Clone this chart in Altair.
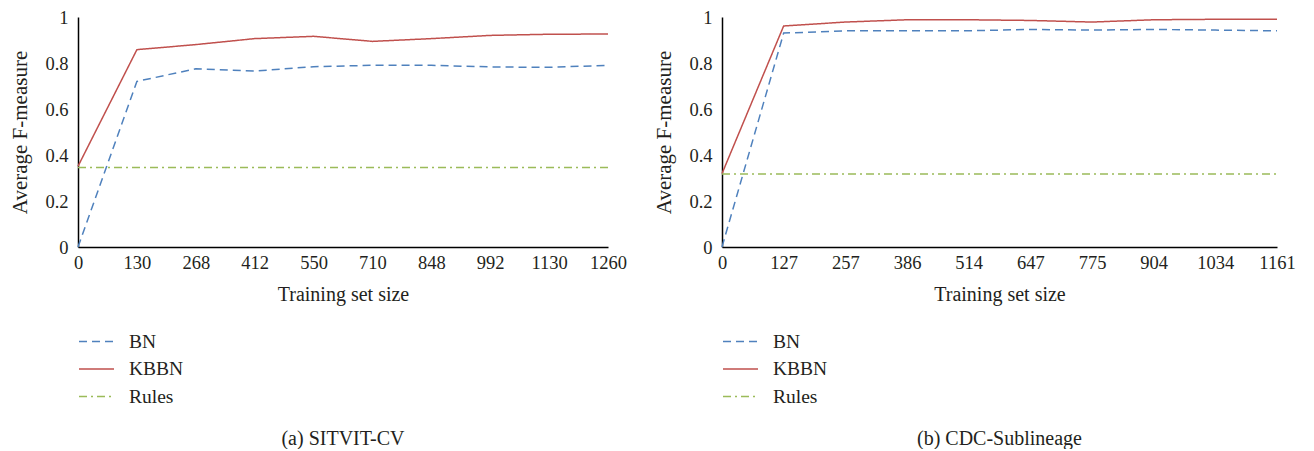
import altair as alt
import pandas as pd

series_names = ["BN", "KBBN", "Rules"]
series_colors = ["#4f81bd", "#c0504d", "#9bbb59"]
series_dashes = [[8, 5], [1, 0], [8, 4, 2, 4]]

# Panel (a) SITVIT-CV
sizes_a = [0, 130, 268, 412, 550, 710, 848, 992, 1130, 1260]
bn_a = [0.0, 0.72, 0.775, 0.765, 0.784, 0.79, 0.79, 0.783, 0.781, 0.79]
kbbn_a = [0.351, 0.858, 0.88, 0.906, 0.916, 0.894, 0.906, 0.92, 0.925, 0.926]
rules_a = [0.346, 0.346, 0.346, 0.346, 0.346, 0.346, 0.346, 0.346, 0.346, 0.346]

# Panel (b) CDC-Sublineage
sizes_b = [0, 127, 257, 386, 514, 647, 775, 904, 1034, 1161]
bn_b = [0.0, 0.93, 0.94, 0.94, 0.94, 0.946, 0.943, 0.946, 0.943, 0.94]
kbbn_b = [0.319, 0.961, 0.978, 0.988, 0.988, 0.985, 0.978, 0.988, 0.99, 0.99]
rules_b = [0.317, 0.317, 0.317, 0.317, 0.317, 0.317, 0.317, 0.317, 0.317, 0.317]

FONT = "Liberation Serif"
TXT = "#231f20"


def panel(sizes, bn, kbbn, rules, caption, width):
    rows = []
    for name, vals in zip(series_names, [bn, kbbn, rules]):
        for i, (s, v) in enumerate(zip(sizes, vals)):
            rows.append({"size": s, "series": name, "value": v, "idx": i})
    df = pd.DataFrame(rows)
    leg = alt.Legend(
        title=None,
        orient="none",
        legendX=5,
        legendY=311,
        padding=0,
        rowPadding=4.5,
        symbolType="M-1.4,0H1.4",
        symbolSize=625,
        symbolStrokeWidth=1.5,
        labelOffset=19,
        labelFont=FONT,
        labelFontSize=19.5,
        labelColor=TXT,
    )
    return (
        alt.Chart(df)
        .mark_line(strokeWidth=1.5)
        .encode(
            x=alt.X(
                "size:O",
                sort=sizes,
                scale=alt.Scale(type="point", padding=0),
                axis=alt.Axis(title="Training set size", labelAngle=0, ticks=False,
                              labelPadding=6, titlePadding=13, titleFontSize=20),
            ),
            y=alt.Y(
                "value:Q",
                scale=alt.Scale(domain=[0, 1], nice=False),
                axis=alt.Axis(title="Average F-measure", values=[0, 0.2, 0.4, 0.6, 0.8, 1],
                              format="~g", ticks=False, grid=False, labelPadding=10,
                              titlePadding=14, titleFontSize=21),
            ),
            color=alt.Color("series:N",
                            scale=alt.Scale(domain=series_names, range=series_colors),
                            legend=leg),
            strokeDash=alt.StrokeDash("series:N",
                                      scale=alt.Scale(domain=series_names, range=series_dashes),
                                      legend=leg),
            order=alt.Order("idx:Q"),
        )
        .properties(
            width=width,
            height=230,
            title=alt.TitleParams(caption, orient="bottom", anchor="middle", offset=23,
                                  font=FONT, fontSize=20, fontWeight="normal",
                                  color=TXT),
        )
    )


left = panel(sizes_a, bn_a, kbbn_a, rules_a, "(a)  SITVIT-CV", 530)
right = panel(sizes_b, bn_b, kbbn_b, rules_b, "(b)  CDC-Sublineage", 555)

chart = (
    alt.hconcat(left, right, spacing=26)
    .resolve_scale(color="independent", strokeDash="independent", x="independent")
    .resolve_legend(color="independent", strokeDash="independent")
    .properties(padding={"left": 1, "top": 0, "right": 2, "bottom": 0})
    .configure_view(stroke=None)
    .configure_axis(
        domainColor="#000000",
        domainWidth=1.5,
        labelFont=FONT,
        labelFontSize=18.5,
        labelColor=TXT,
        titleFont=FONT,
        titleFontWeight="normal",
        titleColor=TXT,
    )
)

chart.save("out.html", embed_options={"renderer": "svg", "actions": False})
